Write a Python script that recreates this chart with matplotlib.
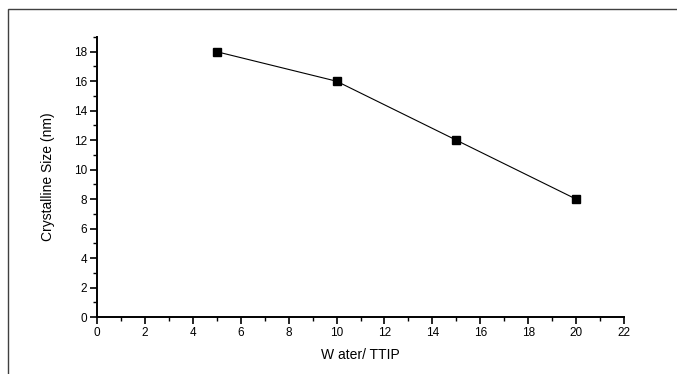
import matplotlib
matplotlib.use("Agg")
import matplotlib.pyplot as plt
from matplotlib.patches import Rectangle
from matplotlib.ticker import MultipleLocator

plt.rcParams['font.family'] = ['Liberation Sans', 'DejaVu Sans']

# data
water_ttip = [5, 10, 15, 20]
crystal_size = [18, 16, 12, 8]

fig = plt.figure(figsize=(6.77, 3.74), dpi=100)

# outer frame (only left and top edge visible in the original)
fig.patches.append(Rectangle((8 / 677, -0.1), 1.2, 1.1 - 9 / 374,
                             transform=fig.transFigure, fill=False,
                             edgecolor='#404040', linewidth=1.0))

ax = fig.add_axes([97 / 677, 1 - 317 / 374, (624 - 97) / 677, (317 - 37) / 374])
ax.plot(water_ttip, crystal_size, color='black', linewidth=0.8,
        marker='s', markersize=6, markerfacecolor='black', markeredgecolor='black')

ax.set_xlim(0, 22)
ax.set_ylim(0, 19)
ax.xaxis.set_major_locator(MultipleLocator(2))
ax.xaxis.set_minor_locator(MultipleLocator(1))
ax.yaxis.set_major_locator(MultipleLocator(2))
ax.yaxis.set_minor_locator(MultipleLocator(1))

for s in ['top', 'right']:
    ax.spines[s].set_visible(False)
for s in ['left', 'bottom']:
    ax.spines[s].set_linewidth(1.4)

ax.tick_params(which='major', direction='out', length=5, width=1.2, labelsize=8.5, pad=2)
ax.tick_params(which='minor', direction='out', length=3, width=1.0)

ax.set_xlabel('W ater/ TTIP', fontsize=10, labelpad=7)
ax.set_ylabel('Crystalline Size (nm)', fontsize=10, labelpad=14)

fig.savefig('out.png', dpi=100)
